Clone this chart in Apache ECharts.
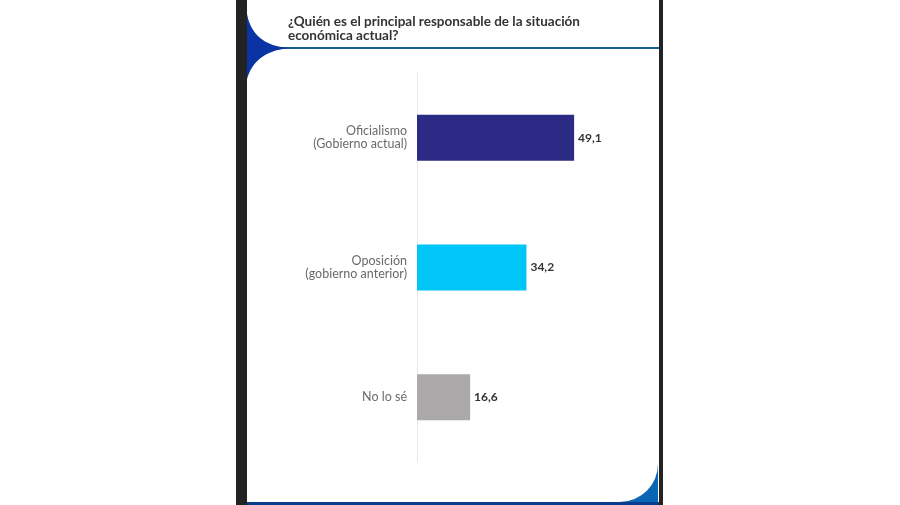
<!DOCTYPE html>
<html><head><meta charset="utf-8">
<script src="https://cdn.jsdelivr.net/npm/echarts@6/dist/echarts.min.js"></script>
<style>html,body{margin:0;padding:0;background:#fff}#c{width:900px;height:505px}</style>
</head><body><div id="c"></div>
<script>
const titleText = '¿Quién es el principal responsable de la situación\neconómica actual?';
const categories = ['Oficialismo\n(Gobierno actual)', 'Oposición\n(gobierno anterior)', 'No lo sé'];
const values = [49.1, 34.2, 16.6];
const valueLabels = ['49,1', '34,2', '16,6'];
const barColors = ['#2b2a84', '#00c6f7', '#aba9aa'];

function quad(p0, c, p1, n) {
  const pts = [];
  for (let i = 0; i <= n; i++) {
    const t = i / n, u = 1 - t;
    pts.push([u*u*p0[0] + 2*u*t*c[0] + t*t*p1[0], u*u*p0[1] + 2*u*t*c[1] + t*t*p1[1]]);
  }
  return pts;
}
const cuspPts = quad([247, 14], [253, 46], [290, 48], 24).concat(quad([290, 48], [255, 51], [247, 79], 24).slice(1));

const chart = echarts.init(document.getElementById('c'), null, {renderer: 'canvas'});
chart.setOption({
  backgroundColor: '#ffffff',
  animation: false,
  title: {
    text: titleText, left: 283, top: 10,
    textStyle: {fontFamily: 'Lato', fontWeight: 'bold', fontSize: 13.5, color: '#333333', lineHeight: 14}
  },
  graphic: [
    {type: 'rect', z: -10, shape: {x: 600, y: 430, width: 58, height: 75}, style: {fill: '#0a66b4'}},
    {type: 'rect', z: -9, shape: {x: 247, y: 0, width: 411, height: 502, r: [0, 0, 38, 0]}, style: {fill: '#ffffff'}},
    {type: 'rect', z: 5, shape: {x: 236, y: 0, width: 11, height: 505}, style: {fill: '#232323'}},
    {type: 'rect', z: 5, shape: {x: 659, y: 0, width: 4, height: 505}, style: {fill: '#232323'}},
    {type: 'rect', z: 5, shape: {x: 247, y: 502, width: 412, height: 3}, style: {fill: '#0a3c8c'}},
    {type: 'rect', z: 5, shape: {x: 280, y: 47, width: 379, height: 2}, style: {fill: '#1c5f8e'}},
    {type: 'polygon', z: 6, shape: {points: cuspPts}, style: {fill: '#0a33a3'}}
  ],
  grid: {left: 417, width: 160, top: 73, height: 389},
  xAxis: {type: 'value', min: 0, max: 50, show: false},
  yAxis: {
    type: 'category', data: categories, inverse: true,
    axisLine: {show: true, lineStyle: {color: '#e8e8e8', width: 1}},
    axisTick: {show: false},
    axisLabel: {margin: 10, fontFamily: 'Lato', fontSize: 12.5, color: '#6a6a6a', lineHeight: 13, align: 'right'}
  },
  series: [{
    type: 'bar', barWidth: 46,
    data: values.map((v, i) => ({value: v, itemStyle: {color: barColors[i]}})),
    label: {
      show: true, position: 'right', distance: 4,
      formatter: p => valueLabels[p.dataIndex],
      fontFamily: 'Lato', fontWeight: 'bold', fontSize: 12, color: '#333333'
    }
  }]
});
</script></body></html>
